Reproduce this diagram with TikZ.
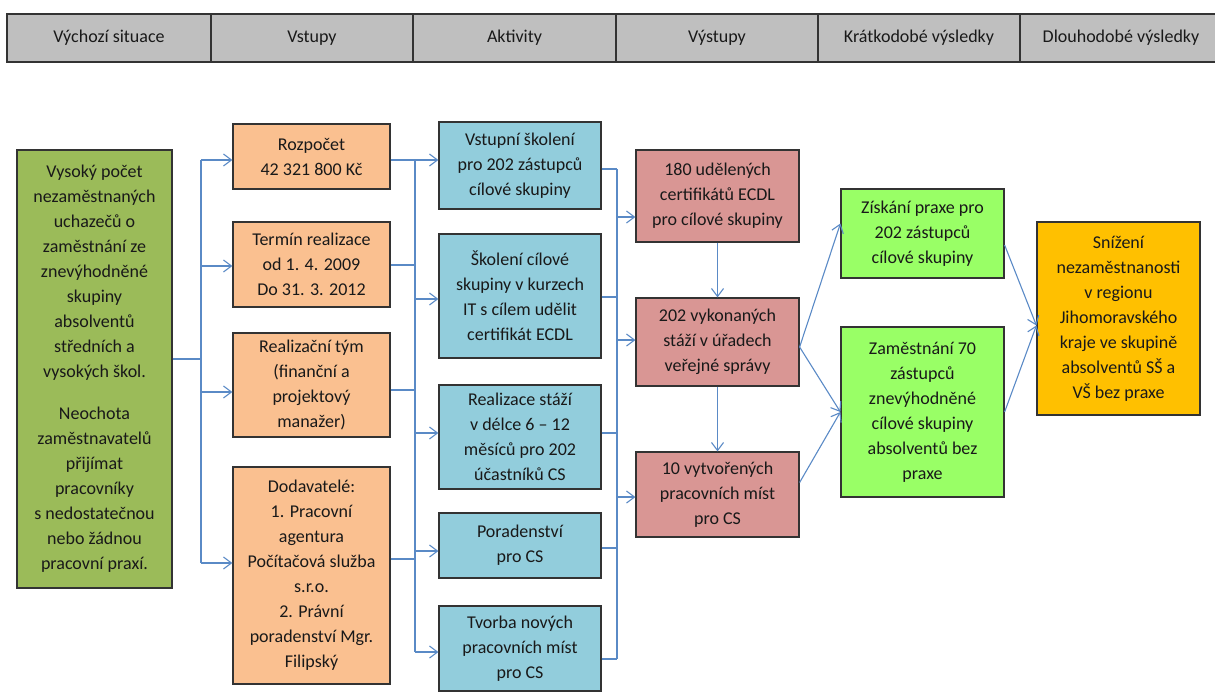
\documentclass[tikz,border=0pt]{standalone}
\usepackage{fontspec}
\setmainfont{Carlito}
\usetikzlibrary{arrows.meta}
\definecolor{hlava}{HTML}{BFBFBF}
\definecolor{zelena}{HTML}{9BBB59}
\definecolor{oranzova}{HTML}{FAC090}
\definecolor{modra}{HTML}{92CDDC}
\definecolor{cervena}{HTML}{D99694}
\definecolor{svetlezelena}{HTML}{99FF66}
\definecolor{zluta}{HTML}{FFC000}
\definecolor{spoj}{HTML}{5A8AC6}
\begin{document}
\begin{tikzpicture}[x=1pt,y=-1pt,
  box/.style={draw=black!80, line width=1.2pt, align=center, inner sep=0pt,
    font=\fontsize{18}{25}\selectfont, text=black!90},
  hcell/.style={box, fill=hlava, line width=2.5pt, minimum height=48pt},
  situace/.style={box, fill=zelena, minimum width=155pt},
  vstupy/.style={box, fill=oranzova, minimum width=157pt},
  aktivity/.style={box, fill=modra, minimum width=162pt},
  vystupy/.style={box, fill=cervena, minimum width=163pt},
  kratko/.style={box, fill=svetlezelena, minimum width=163pt},
  dlouho/.style={box, fill=zluta, minimum width=163pt},
  line/.style={draw=spoj, line width=1.1pt},
  arr/.style={line, -{Straight Barb[length=8pt,width=12pt]}}]
  \useasboundingbox (0,0) rectangle (1215,691);
  % Zahlavi
  \node[hcell, minimum width=204pt] (h1) at (109,38) {Výchozí situace};
  \node[hcell, minimum width=202pt] (h2) at (312,38) {Vstupy};
  \node[hcell, minimum width=203pt] (h3) at (514.5,38) {Aktivity};
  \node[hcell, minimum width=202pt] (h4) at (717,38) {Výstupy};
  \node[hcell, minimum width=202pt] (h5) at (919,38) {Krátkodobé výsledky};
  \node[hcell, minimum width=202pt] (h6) at (1121,38) {Dlouhodobé výsledky};
  % Vychozi situace
  \node[situace, minimum height=438pt] (sit) at (94.5,369)
    {Vysoký počet\\nezaměstnaných\\uchazečů o\\zaměstnání ze\\znevýhodněné\\skupiny\\absolventů\\středních a\\vysokých škol.\\[17pt]Neochota\\zaměstnavatelů\\přijímat\\pracovníky\\s nedostatečnou\\nebo žádnou\\pracovní praxí.};
  % Vstupy
  \node[vstupy, minimum height=65pt] (rozp) at (311.5,156.5) {Rozpočet\\42 321 800 Kč};
  \node[vstupy, minimum height=85pt] (termin) at (311.5,264.5) {Termín realizace\\od 1. 4. 2009\\Do 31. 3. 2012};
  \node[vstupy, minimum height=104pt] (tym) at (311.5,385) {Realizační tým\\(finanční a\\projektový\\manažer)};
  \node[vstupy, minimum height=217pt] (dodav) at (311.5,575.5) {Dodavatelé:\\1. Pracovní\\agentura\\Počítačová služba\\s.r.o.\\2. Právní\\poradenství Mgr.\\Filipský};
  % Aktivity
  \node[aktivity, minimum height=87pt] (vstup) at (520,165.5) {Vstupní školení\\pro 202 zástupců\\cílové skupiny};
  \node[aktivity, minimum height=124pt] (skol) at (520,296) {Školení cílové\\skupiny v kurzech\\IT s cílem udělit\\certifikát ECDL};
  \node[aktivity, minimum height=104pt] (staz) at (520,437) {Realizace stáží\\v délce 6 – 12\\měsíců pro 202\\účastníků CS};
  \node[aktivity, minimum height=65pt] (porad) at (520,545.5) {Poradenství\\pro CS};
  \node[aktivity, minimum height=85pt] (tvorba) at (520,648.5) {Tvorba nových\\pracovních míst\\pro CS};
  % Vystupy
  \node[vystupy, minimum height=92pt] (cert) at (717.5,196) {180 udělených\\certifikátů ECDL\\pro cílové skupiny};
  \node[vystupy, minimum height=88pt] (staze) at (717.5,342) {202 vykonaných\\stáží v úřadech\\veřejné správy};
  \node[vystupy, minimum height=85pt] (mista) at (717.5,494.5) {10 vytvořených\\pracovních míst\\pro CS};
  % Kratkodobe a dlouhodobe vysledky
  \node[kratko, minimum height=89pt] (ziskani) at (922.5,233.5) {Získání praxe pro\\202 zástupců\\cílové skupiny};
  \node[kratko, minimum height=170pt] (zam) at (922.5,412) {Zaměstnání 70\\zástupců\\znevýhodněné\\cílové skupiny\\absolventů bez\\praxe};
  \node[dlouho, minimum height=193pt] (snizeni) at (1118.5,318.5) {Snížení\\nezaměstnanosti\\v regionu\\Jihomoravského\\kraje ve skupině\\absolventů SŠ a\\VŠ bez praxe};
  % Sbernice
  \coordinate (busA) at (201,0);
  \coordinate (busB) at (415,0);
  \coordinate (busC) at (617,0);
  % Situace -> vstupy
  \draw[line] (sit.east |- 0,359) -- (busA |- 0,359);
  \draw[line] (busA |- 0,160) -- (busA |- 0,563);
  \foreach \n/\y in {rozp/160, termin/266, tym/392, dodav/563}
    \draw[arr] (busA |- 0,\y) -- (\n.west |- 0,\y);
  % Vstupy -> aktivity
  \foreach \n/\y in {rozp/160, termin/265, tym/390, dodav/559}
    \draw[line] (\n.east |- 0,\y) -- (busB |- 0,\y);
  \draw[line] (busB |- 0,160) -- (busB |- 0,652);
  \foreach \n/\y in {vstup/160, skol/299, staz/433, porad/551, tvorba/652}
    \draw[arr] (busB |- 0,\y) -- (\n.west |- 0,\y);
  % Aktivity -> vystupy
  \foreach \n/\y in {vstup/169, skol/297, staz/433, porad/548, tvorba/659}
    \draw[line] (\n.east |- 0,\y) -- (busC |- 0,\y);
  \draw[line] (busC |- 0,169) -- (busC |- 0,659);
  \foreach \n/\y in {cert/217, staze/340, mista/497}
    \draw[arr] (busC |- 0,\y) -- (\n.west |- 0,\y);
  % Vystupy mezi sebou
  \draw[arr] (cert) -- (staze);
  \draw[arr] (staze) -- (mista);
  % Vystupy -> vysledky
  \draw[arr] ([yshift=-5pt]staze.east) -- ([yshift=10pt]ziskani.west);
  \draw[arr] ([yshift=-5pt]staze.east) -- (zam.west);
  \draw[arr] ([yshift=12pt]mista.east) -- (zam.west);
  \draw[arr] ([yshift=-11.5pt]ziskani.east) -- ([yshift=-7pt]snizeni.west);
  \draw[arr] (zam.east) -- ([yshift=-7pt]snizeni.west);
\end{tikzpicture}
\end{document}
